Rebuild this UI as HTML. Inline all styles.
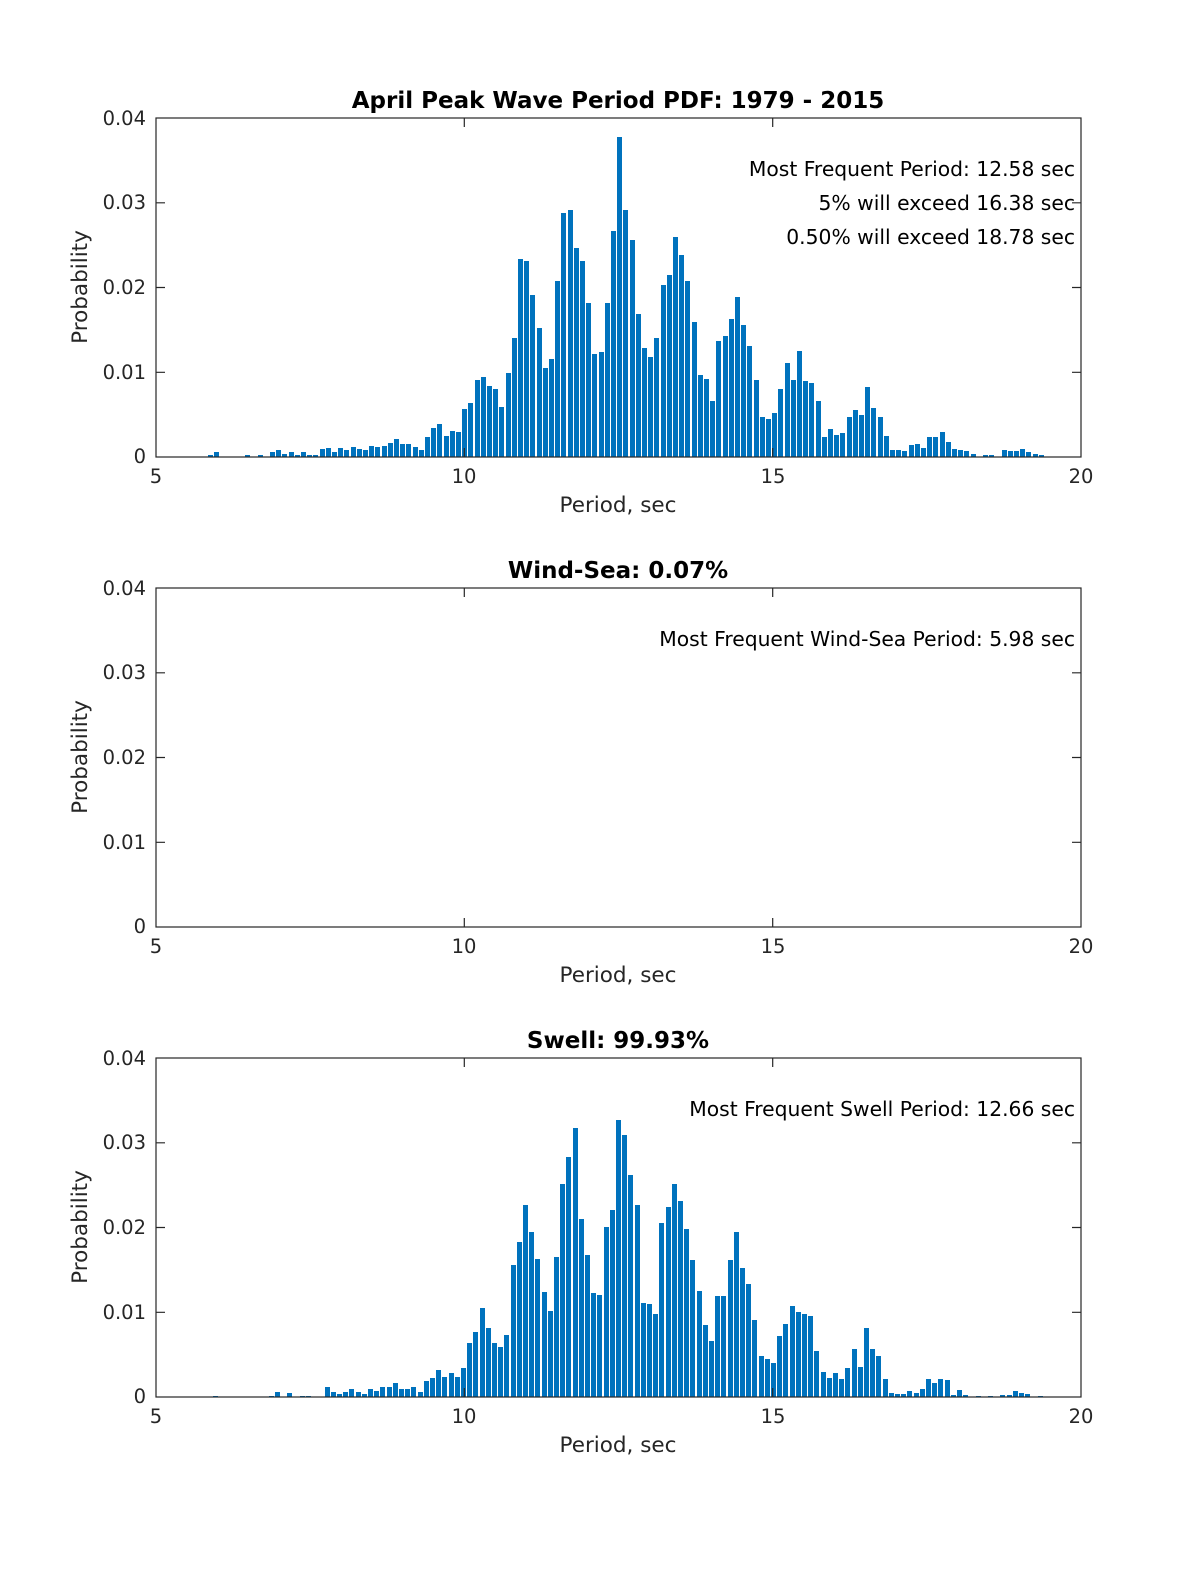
<!DOCTYPE html>
<html><head><meta charset="utf-8"><style>
html,body{margin:0;padding:0;background:#fff;overflow:hidden;width:1200px;height:1575px}
svg{display:block;width:1200px;height:1575px}
text{font-family:"DejaVu Sans","Liberation Sans",sans-serif}
.t{font-size:19.5px;fill:#262626}
.a{font-size:21.5px;fill:#262626}
.n{font-size:20.3px;fill:#000}
.h{font-size:23px;font-weight:bold;fill:#000}
</style></head><body>
<svg width="1200" height="1575" viewBox="0 0 1200 1575" xmlns="http://www.w3.org/2000/svg">
<rect width="1200" height="1575" fill="#fff"/>

<!-- ========== Plot 1 ========== -->
<g>
<path fill="#0072BD" d="
M208 457V455h5V457z M214 457V452h5V457z M245 457V455h5V457z M258 457V455h5V457z M270 457V452h5V457z M276 457V450h5V457z M282 457V454h5V457z M289 457V452h5V457z M295 457V455h5V457z M301 457V452h5V457z M307 457V455h5V457z M313 457V455h5V457z M320 457V449h5V457z M326 457V448h5V457z M332 457V452h5V457z M338 457V448h5V457z M344 457V450h5V457z M351 457V447h5V457z M357 457V449h5V457z M363 457V450h5V457z M369 457V446h5V457z M375 457V447h5V457z M382 457V446h5V457z M388 457V443h5V457z M394 457V439h5V457z
M400 457V444h5V457z M406 457V444h5V457z M413 457V447h5V457z M419 457V450h5V457z M425 457V437h5V457z M431 457V428h5V457z M437 457V424h5V457z M444 457V436h5V457z M450 457V431h5V457z M456 457V432h5V457z M462 457V409h5V457z M468 457V403h5V457z M475 457V380h5V457z M481 457V377h5V457z M487 457V386h5V457z M493 457V389h5V457z M499 457V407h5V457z M506 457V373h5V457z M512 457V338h5V457z M518 457V259h5V457z M524 457V261h5V457z M530 457V295h5V457z M537 457V328h5V457z M543 457V368h5V457z M549 457V359h5V457z M555 457V281h5V457z M561 457V213h5V457z M568 457V210h5V457z M574 457V248h5V457z M580 457V261h5V457z M586 457V303h5V457z M592 457V354h5V457z M599 457V352h5V457z M605 457V303h5V457z M611 457V231h5V457z M617 457V137h5V457z M623 457V210h5V457z M630 457V240h5V457z M636 457V314h5V457z M642 457V348h5V457z M648 457V357h5V457z M654 457V338h5V457z M661 457V285h5V457z M667 457V275h5V457z M673 457V237h5V457z M679 457V255h5V457z M685 457V281h5V457z M692 457V322h5V457z M698 457V375h5V457z
M704 457V379h5V457z M710 457V401h5V457z M716 457V341h5V457z M723 457V336h5V457z M729 457V319h5V457z M735 457V297h5V457z M741 457V325h5V457z M747 457V346h5V457z M754 457V380h5V457z M760 457V417h5V457z M766 457V419h5V457z M772 457V413h5V457z M778 457V389h5V457z M785 457V363h5V457z M791 457V380h5V457z M797 457V351h5V457z M803 457V381h5V457z M809 457V383h5V457z M816 457V401h5V457z M822 457V437h5V457z M828 457V429h5V457z M834 457V435h5V457z M840 457V433h5V457z M847 457V417h5V457z M853 457V410h5V457z M859 457V415h5V457z M865 457V387h5V457z M871 457V408h5V457z M878 457V417h5V457z M884 457V436h5V457z M890 457V450h5V457z M896 457V450h5V457z M902 457V451h5V457z M909 457V445h5V457z M915 457V444h5V457z M921 457V448h5V457z M927 457V437h5V457z M933 457V437h5V457z M940 457V432h5V457z M946 457V442h5V457z M952 457V449h5V457z M958 457V450h5V457z M964 457V451h5V457z M971 457V454h5V457z M983 457V455h5V457z M989 457V455h5V457z M1002 457V450h5V457z M1008 457V451h5V457z M1014 457V451h5V457z M1020 457V449h5V457z M1026 457V452h5V457z M1033 457V454h5V457z M1039 457V455h5V457z"/>
<rect x="156" y="118" width="925" height="339" fill="none" stroke="#262626" stroke-width="1.2"/>
<path stroke="#262626" stroke-width="1.2" d="M464.3 457v-9M772.7 457v-9M464.3 118v9M772.7 118v9M156 372.3h9M156 287.5h9M156 202.8h9M1081 372.3h-9M1081 287.5h-9M1081 202.8h-9"/>
<g class="t" text-anchor="end"><text x="146" y="463">0</text><text x="146" y="379">0.01</text><text x="146" y="294">0.02</text><text x="146" y="209">0.03</text><text x="146" y="125">0.04</text></g>
<g class="t" text-anchor="middle"><text x="156" y="483">5</text><text x="464" y="483">10</text><text x="773" y="483">15</text><text x="1081" y="483">20</text></g>
<text class="a" x="618" y="512" text-anchor="middle">Period, sec</text>
<text class="a" transform="translate(87,287) rotate(-90)" text-anchor="middle">Probability</text>
<text class="h" x="618" y="108" text-anchor="middle">April Peak Wave Period PDF: 1979 - 2015</text>
<g class="n" text-anchor="end"><text x="1075" y="176">Most Frequent Period: 12.58 sec</text><text x="1075" y="210">5% will exceed 16.38 sec</text><text x="1075" y="244">0.50% will exceed 18.78 sec</text></g>
</g>

<!-- ========== Plot 2 ========== -->
<g transform="translate(0,470)">
<rect x="156" y="118" width="925" height="339" fill="none" stroke="#262626" stroke-width="1.2"/>
<path stroke="#262626" stroke-width="1.2" d="M464.3 457v-9M772.7 457v-9M464.3 118v9M772.7 118v9M156 372.3h9M156 287.5h9M156 202.8h9M1081 372.3h-9M1081 287.5h-9M1081 202.8h-9"/>
<g class="t" text-anchor="end"><text x="146" y="463">0</text><text x="146" y="379">0.01</text><text x="146" y="294">0.02</text><text x="146" y="209">0.03</text><text x="146" y="125">0.04</text></g>
<g class="t" text-anchor="middle"><text x="156" y="483">5</text><text x="464" y="483">10</text><text x="773" y="483">15</text><text x="1081" y="483">20</text></g>
<text class="a" x="618" y="512" text-anchor="middle">Period, sec</text>
<text class="a" transform="translate(87,287) rotate(-90)" text-anchor="middle">Probability</text>
<text class="h" x="618" y="108" text-anchor="middle">Wind-Sea: 0.07%</text>
<text class="n" x="1075" y="176" text-anchor="end">Most Frequent Wind-Sea Period: 5.98 sec</text>
</g>

<!-- ========== Plot 3 ========== -->
<g>
<path fill="#0072BD" d="
M213 1397V1396h5V1397z M269 1397V1396h5V1397z M275 1397V1392h5V1397z M287 1397V1393h5V1397z M300 1397V1396h5V1397z M306 1397V1396h5V1397z M325 1397V1387h5V1397z M331 1397V1392h5V1397z M337 1397V1394h5V1397z M343 1397V1392h5V1397z M349 1397V1389h5V1397z M356 1397V1392h5V1397z M362 1397V1394h5V1397z M368 1397V1389h5V1397z M374 1397V1391h5V1397z M380 1397V1387h5V1397z M387 1397V1387h5V1397z M393 1397V1383h5V1397z
M399 1397V1389h5V1397z M405 1397V1389h5V1397z M411 1397V1387h5V1397z M418 1397V1392h5V1397z M424 1397V1381h5V1397z M430 1397V1378h5V1397z M436 1397V1370h5V1397z M442 1397V1377h5V1397z M449 1397V1373h5V1397z M455 1397V1377h5V1397z M461 1397V1368h5V1397z M467 1397V1343h5V1397z M473 1397V1332h5V1397z M480 1397V1308h5V1397z M486 1397V1328h5V1397z M492 1397V1343h5V1397z M498 1397V1347h5V1397z M504 1397V1335h5V1397z M511 1397V1265h5V1397z M517 1397V1242h5V1397z M523 1397V1205h5V1397z M529 1397V1232h5V1397z M535 1397V1259h5V1397z M542 1397V1292h5V1397z M548 1397V1311h5V1397z M554 1397V1257h5V1397z M560 1397V1184h5V1397z M566 1397V1157h5V1397z M573 1397V1128h5V1397z M579 1397V1219h5V1397z M585 1397V1255h5V1397z M591 1397V1293h5V1397z M597 1397V1295h5V1397z M604 1397V1227h5V1397z M610 1397V1210h5V1397z M616 1397V1120h5V1397z M622 1397V1135h5V1397z M628 1397V1175h5V1397z M635 1397V1205h5V1397z M641 1397V1303h5V1397z M647 1397V1304h5V1397z M653 1397V1314h5V1397z M659 1397V1223h5V1397z M666 1397V1207h5V1397z M672 1397V1184h5V1397z M678 1397V1201h5V1397z M684 1397V1229h5V1397z M690 1397V1260h5V1397z M697 1397V1291h5V1397z
M703 1397V1325h5V1397z M709 1397V1341h5V1397z M715 1397V1296h5V1397z M721 1397V1296h5V1397z M728 1397V1260h5V1397z M734 1397V1232h5V1397z M740 1397V1268h5V1397z M746 1397V1284h5V1397z M752 1397V1320h5V1397z M759 1397V1356h5V1397z M765 1397V1359h5V1397z M771 1397V1363h5V1397z M777 1397V1336h5V1397z M783 1397V1324h5V1397z M790 1397V1306h5V1397z M796 1397V1312h5V1397z M802 1397V1314h5V1397z M808 1397V1316h5V1397z M814 1397V1351h5V1397z M821 1397V1372h5V1397z M827 1397V1378h5V1397z M833 1397V1373h5V1397z M839 1397V1379h5V1397z M845 1397V1368h5V1397z M852 1397V1349h5V1397z M858 1397V1367h5V1397z M864 1397V1328h5V1397z M870 1397V1349h5V1397z M876 1397V1356h5V1397z M883 1397V1379h5V1397z M889 1397V1393h5V1397z M895 1397V1394h5V1397z M901 1397V1394h5V1397z M907 1397V1391h5V1397z M914 1397V1393h5V1397z M920 1397V1389h5V1397z M926 1397V1379h5V1397z M932 1397V1383h5V1397z M938 1397V1379h5V1397z M945 1397V1380h5V1397z M951 1397V1395h5V1397z M957 1397V1390h5V1397z M963 1397V1395h5V1397z M976 1397V1396h5V1397z M988 1397V1396h5V1397z M1000 1397V1395h5V1397z M1007 1397V1395h5V1397z M1013 1397V1391h5V1397z M1019 1397V1393h5V1397z M1025 1397V1394h5V1397z M1038 1397V1396h5V1397z"/>
</g>
<g transform="translate(0,940)">
<rect x="156" y="118" width="925" height="339" fill="none" stroke="#262626" stroke-width="1.2"/>
<path stroke="#262626" stroke-width="1.2" d="M464.3 457v-9M772.7 457v-9M464.3 118v9M772.7 118v9M156 372.3h9M156 287.5h9M156 202.8h9M1081 372.3h-9M1081 287.5h-9M1081 202.8h-9"/>
<g class="t" text-anchor="end"><text x="146" y="463">0</text><text x="146" y="379">0.01</text><text x="146" y="294">0.02</text><text x="146" y="209">0.03</text><text x="146" y="125">0.04</text></g>
<g class="t" text-anchor="middle"><text x="156" y="483">5</text><text x="464" y="483">10</text><text x="773" y="483">15</text><text x="1081" y="483">20</text></g>
<text class="a" x="618" y="512" text-anchor="middle">Period, sec</text>
<text class="a" transform="translate(87,287) rotate(-90)" text-anchor="middle">Probability</text>
<text class="h" x="618" y="108" text-anchor="middle">Swell: 99.93%</text>
<text class="n" x="1075" y="176" text-anchor="end">Most Frequent Swell Period: 12.66 sec</text>
</g>
</svg>
</body></html>
